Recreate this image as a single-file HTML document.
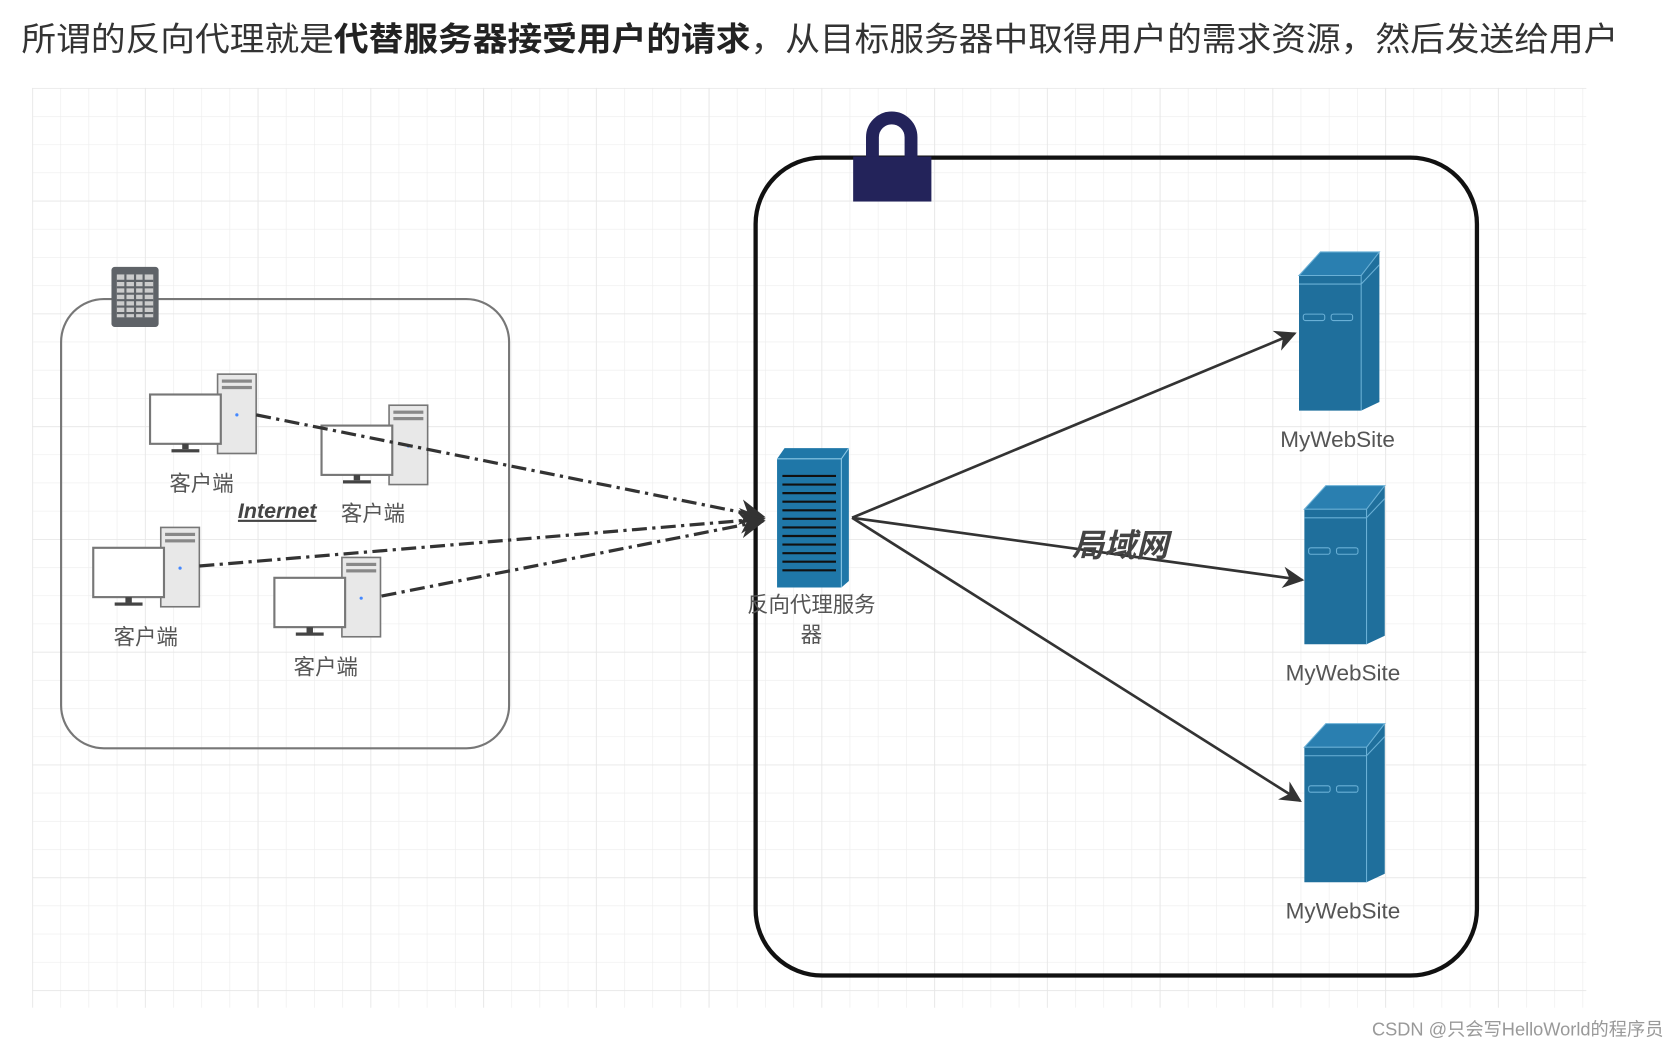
<!DOCTYPE html>
<html><head><meta charset="utf-8"><style>
html,body{margin:0;padding:0;background:#fff;width:1672px;height:1042px;overflow:hidden}
svg{display:block}
text{font-family:"Liberation Sans","Noto Sans CJK SC",sans-serif}
</style></head><body>
<svg width="1672" height="1042" viewBox="0 0 1560 972" preserveAspectRatio="none" xmlns="http://www.w3.org/2000/svg">
<defs>
<pattern id="g" x="30" y="82" width="26.3" height="26.3" patternUnits="userSpaceOnUse">
<path d="M0 0V26.3M0 0H26.3" stroke="#ededed" stroke-width="1.2" fill="none"/>
</pattern>
<pattern id="G" x="30" y="82" width="105.2" height="105.2" patternUnits="userSpaceOnUse">
<path d="M0 0V105.2M0 0H105.2" stroke="#e6e6e6" stroke-width="1.5" fill="none"/>
</pattern>
<marker id="a" viewBox="0 0 10 10" refX="9" refY="5" markerWidth="8" markerHeight="8" orient="auto"><path d="M0 0L10 5L0 10L3 5z" fill="#333"/></marker>
<g id="pc">
<rect x="63" y="0" width="36" height="74" fill="#e8e8e8" stroke="#777" stroke-width="1.5"/>
<rect x="67" y="5" width="28" height="3" fill="#888"/><rect x="67" y="11" width="28" height="3" fill="#888"/>
<circle cx="81" cy="38" r="1.5" fill="#48f"/>
<rect x="0" y="19" width="66" height="46" fill="#fff" stroke="#777" stroke-width="2"/>
<rect x="30" y="65" width="6" height="5" fill="#444"/><rect x="20" y="70" width="26" height="3" fill="#444"/>
</g>
<g id="srv">
<path d="M0 22L20 0H75V140L58 148H0Z" fill="#1f6f9c"/>
<path d="M0 22L20 0H75L58 22Z" fill="#2a7fb0" stroke="#6ab0d6" stroke-width="1"/>
<path d="M58 22V148M0 30H58M58 30L75 12" stroke="#6ab0d6" stroke-width="1" fill="none"/>
<rect x="4" y="58" width="20" height="6" rx="2" fill="none" stroke="#6ab0d6"/>
<rect x="30" y="58" width="20" height="6" rx="2" fill="none" stroke="#6ab0d6"/>
</g>
</defs>
<rect width="1560" height="972" fill="#fff"/>
<rect x="30" y="82" width="1450" height="858" fill="url(#g)"/>
<rect x="30" y="82" width="1450" height="858" fill="url(#G)"/>
<text x="20" y="47" font-size="31" fill="#333" textLength="1490" lengthAdjust="spacingAndGlyphs">所谓的反向代理就是<tspan font-weight="bold" fill="#222">代替服务器接受用户的请求</tspan>，从目标服务器中取得用户的需求资源，然后发送给用户</text>
<rect x="57" y="279" width="418" height="419" rx="40" fill="none" stroke="#777" stroke-width="2"/>
<rect x="104" y="249" width="44" height="56" rx="3" fill="#5f6368"/>
<rect x="109" y="256" width="34" height="40" fill="#ccc"/>
<path d="M109 262H143M109 268H143M109 274H143M109 280H143M109 286H143M109 292H143M117 256V296M126 256V296M134 256V296" stroke="#5f6368" stroke-width="2"/>
<rect x="705" y="147" width="673" height="763" rx="62" fill="none" stroke="#111" stroke-width="4"/>
<path d="M814 150V128A18 18 0 0 1 850 128V150" fill="none" stroke="#23235a" stroke-width="12"/>
<rect x="796" y="146" width="73" height="42" fill="#23235a"/>
<use href="#pc" x="140" y="349"/>
<use href="#pc" x="300" y="378"/>
<use href="#pc" x="87" y="492"/>
<use href="#pc" x="256" y="520"/>
<g font-size="20" fill="#555" text-anchor="middle">
<text x="188" y="458">客户端</text><text x="348" y="486">客户端</text>
<text x="136" y="601">客户端</text><text x="304" y="629">客户端</text>
</g>
<text x="222" y="483" font-size="20" font-weight="bold" font-style="italic" fill="#444" text-decoration="underline">Internet</text>
<g stroke="#333" stroke-width="3" stroke-dasharray="14 5 3 5" fill="none">
<path d="M239 387L712 482" marker-end="url(#a)"/>
<path d="M186 528L712 484" marker-end="url(#a)"/>
<path d="M356 556L712 486" marker-end="url(#a)"/>
</g>
<path d="M725 428L732 418H792V542L785 548H725Z" fill="#1f77a8"/>
<path d="M725 428H785V548M785 428L792 418" stroke="#8cc8e6" stroke-width="1" fill="none"/>
<g stroke="#111" stroke-width="2">
<path d="M730 444H780M730 452H780M730 460H780M730 468H780M730 476H780M730 484H780M730 492H780M730 500H780M730 508H780M730 516H780M730 524H780M730 532H780"/>
</g>
<text x="757" y="571" font-size="20" fill="#555" text-anchor="middle">反向代理服务</text>
<text x="757" y="599" font-size="20" fill="#555" text-anchor="middle">器</text>
<g stroke="#333" stroke-width="2.5" fill="none">
<path d="M795 483L1208 311" marker-end="url(#a)"/>
<path d="M795 483L1215 541" marker-end="url(#a)"/>
<path d="M795 483L1213 747" marker-end="url(#a)"/>
</g>
<use href="#srv" x="1212" y="235"/>
<use href="#srv" x="1217" y="453"/>
<use href="#srv" x="1217" y="675"/>
<g font-size="21" fill="#555" text-anchor="middle">
<text x="1248" y="417">MyWebSite</text><text x="1253" y="635">MyWebSite</text><text x="1253" y="857">MyWebSite</text>
</g>
<text x="1045" y="519" font-size="30" font-weight="bold" font-style="italic" fill="#444" text-anchor="middle">局域网</text>
<text x="1552" y="966" font-size="17" fill="#999" text-anchor="end">CSDN @只会写HelloWorld的程序员</text>
</svg>
</body></html>
